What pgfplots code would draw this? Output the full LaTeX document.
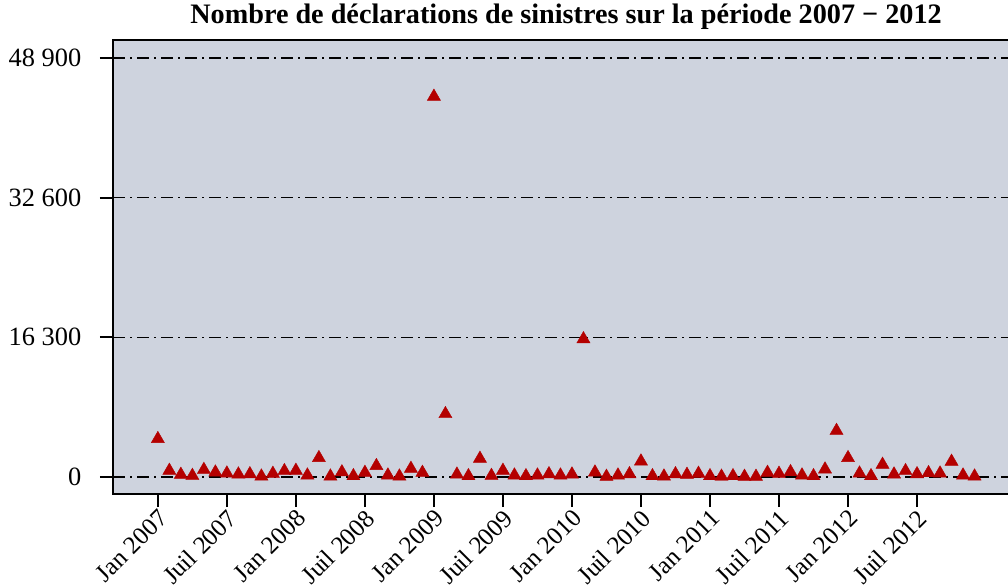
\documentclass[border=0pt]{standalone}
\usepackage{fontspec}
\setmainfont{Liberation Serif}
\usepackage{pgfplots}
\pgfplotsset{compat=1.18}
\definecolor{bgc}{RGB}{206,211,222}
\definecolor{mk}{RGB}{180,0,0}
\begin{document}
\fontsize{12.5}{15}\selectfont
\begin{tikzpicture}
\begin{axis}[
  scale only axis, width=449pt, height=227pt,
  xmin=-3.9, xmax=74.17, ymin=-1984, ymax=51000,
  axis background/.style={fill=bgc},
  axis line style={line width=1pt},
  scaled y ticks=false,
  xtick={0,6,12,18,24,30,36,42,48,54,60,66},
  xticklabels={Jan 2007,Juil 2007,Jan 2008,Juil 2008,Jan 2009,Juil 2009,Jan 2010,Juil 2010,Jan 2011,Juil 2011,Jan 2012,Juil 2012},
  ytick={0,16300,32600,48900},
  yticklabels={0,16 300,32 600,48 900},
  xtick pos=left, ytick pos=left,
  tick align=outside, major tick length=6.5pt,
  tick style={black, line width=1pt},
  minor tick num=0,
  ymajorgrids,
  grid style={black, line width=0.75pt, dash pattern=on 6pt off 2.5pt on 1pt off 2.5pt},
  xticklabel style={font=\fontsize{12.5}{15}\selectfont, rotate=45, anchor=north east, inner sep=1pt, xshift=0.5pt, yshift=1pt},
  yticklabel style={font=\fontsize{13.2}{15}\selectfont, anchor=east, xshift=-5pt},
  title={\bfseries Nombre de déclarations de sinistres sur la période 2007 − 2012},
  title style={font=\fontsize{14.1}{16}\selectfont, at={(axis description cs:0.5045,1.0088)}, anchor=base},
]
\coordinate (bl) at (rel axis cs:0,0);
\coordinate (tr) at (rel axis cs:1,1);
\addplot[only marks, mark=triangle*, mark size=3.8pt, mark options={fill=mk, draw=mk, line width=0.2pt}] table {
x y
0 4450
1 750
2 280
3 150
4 850
5 550
6 430
7 320
8 350
9 80
10 400
11 710
12 750
13 200
14 2230
15 80
16 570
17 120
18 510
19 1300
20 200
21 80
22 980
23 510
24 44400
25 7360
26 300
27 120
28 2150
29 150
30 750
31 200
32 120
33 200
34 350
35 200
36 320
37 16100
38 550
39 50
40 200
41 350
42 1830
43 120
44 80
45 350
46 280
47 400
48 120
49 60
50 120
51 50
52 50
53 510
54 400
55 590
56 200
57 120
58 900
59 5400
60 2230
61 430
62 120
63 1450
64 320
65 710
66 350
67 470
68 430
69 1800
70 200
71 80
};
\end{axis}
\pgfresetboundingbox
\path[use as bounding box] ([xshift=-56.5pt,yshift=-45pt]bl) rectangle ([xshift=-1.5pt,yshift=20pt]tr);
\end{tikzpicture}
\end{document}
